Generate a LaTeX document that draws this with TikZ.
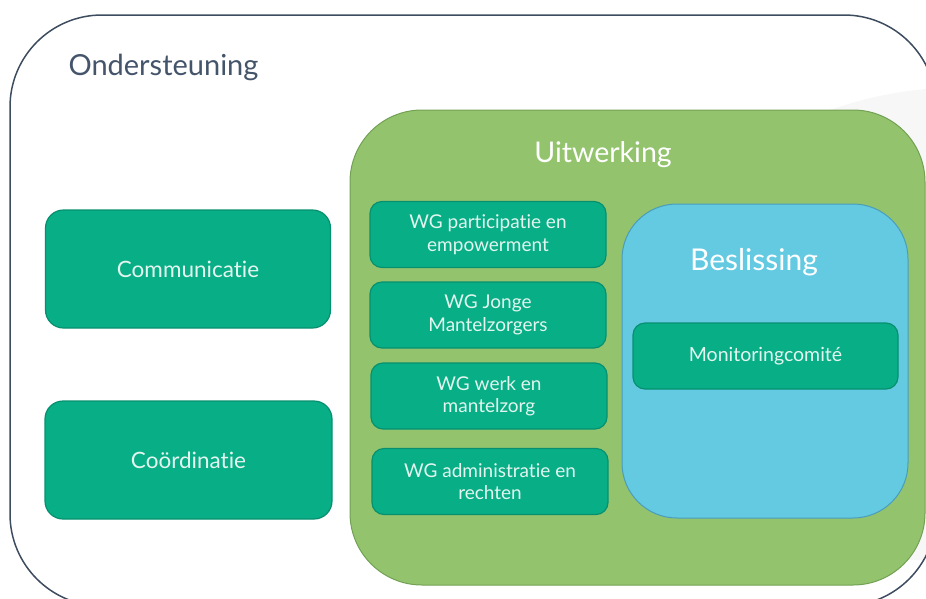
\documentclass[tikz,border=0pt]{standalone}
\usepackage{fontspec}
\setmainfont{Lato}[Ligatures=NoCommon]
\definecolor{outerline}{HTML}{3E4C60}
\definecolor{titlecol}{HTML}{44546A}
\definecolor{greenfill}{HTML}{93C46D}
\definecolor{greenline}{HTML}{72A153}
\definecolor{bluefill}{HTML}{63CAE2}
\definecolor{blueline}{HTML}{4A9DBA}
\definecolor{tealfill}{HTML}{08AE86}
\definecolor{tealline}{HTML}{07906F}
\definecolor{tealtext}{HTML}{E2F6EF}
\definecolor{shadowgray}{HTML}{F7F7F8}
\begin{document}
\begin{tikzpicture}[x=1pt,y=-1pt,
  teal/.style={draw=tealline,fill=tealfill,line width=1.2pt,rounded corners=12pt,minimum width=#1,align=center,text=tealtext,inner sep=0pt},
  wg/.style={teal=236pt,minimum height=66pt,font=\fontsize{19}{22.5}\selectfont},
  big/.style={teal=285pt,minimum height=118pt,font=\fontsize{22.5}{26}\selectfont,rounded corners=18pt}]
\useasboundingbox (0,0) rectangle (926,598);
\begin{scope}
\clip (0,0) rectangle (926,598);
\fill[shadowgray] (830,110) .. controls (870,96) and (905,90) .. (940,88) -- (940,560) -- (900,560) -- cycle;
\draw[outerline,line width=1.5pt,rounded corners=92pt] (10,15) rectangle (936,606);
\node[draw=greenline,fill=greenfill,line width=1pt,rounded corners=72pt,minimum width=575pt,minimum height=475pt,inner sep=0pt] (uit) at (637.5,347.5) {};
\end{scope}
\node[anchor=west,text=titlecol,font=\fontsize{29}{34}\selectfont] (ond) at (65,67) {Ondersteuning};
\node[text=white,font=\fontsize{28.5}{32}\selectfont] (uitl) at (603,155) {Uitwerking};
\node[draw=blueline,fill=bluefill,line width=1pt,rounded corners=55pt,minimum width=286pt,minimum height=314pt,inner sep=0pt] (bes) at (765,361) {};
\node[text=white,font=\fontsize{30}{34}\selectfont] (besl) at (754,262) {Beslissing};
\node[teal=265pt,minimum height=66pt,font=\fontsize{19.5}{22}\selectfont] (mon) at (765.5,356) {Monitoringcomité};
\node[wg] (wg1) at (488,234.5) {WG participatie en\\empowerment};
\node[wg] (wg2) at (488,315) {WG Jonge\\Mantelzorgers};
\node[wg] (wg3) at (489,396) {WG werk en\\mantelzorg};
\node[wg] (wg4) at (490,481.5) {WG administratie en\\rechten};
\node[big] (com) at (188,269) {Communicatie};
\node[big,minimum width=287pt] (coo) at (188.5,460) {Coördinatie};
\end{tikzpicture}
\end{document}
